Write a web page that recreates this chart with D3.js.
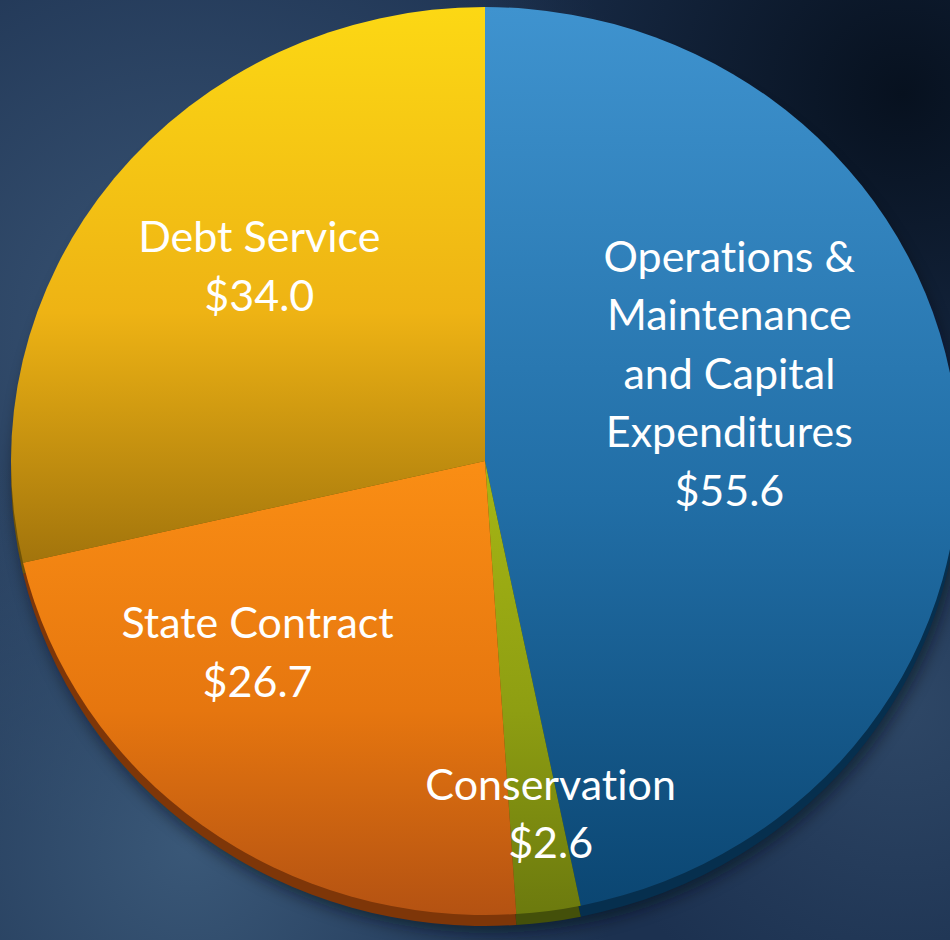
<!DOCTYPE html>
<html>
<head>
<meta charset="utf-8">
<script src="https://cdn.jsdelivr.net/npm/d3@7"></script>
<style>
  html, body { margin: 0; padding: 0; background: #1d3452; }
  #canvas { width: 950px; height: 940px; }
  text { font-variant-ligatures: none; font-feature-settings: "liga" 0; }
</style>
</head>
<body>
<div id="canvas" class="canvas"></div>
<script>
// data (millions of dollars)
var categories = ['Operations & Maintenance and Capital Expenditures', 'Conservation', 'State Contract', 'Debt Service'];
var values = [55.6, 2.6, 26.7, 34.0];
var labelLines = [
  ['Operations &', 'Maintenance', 'and Capital', 'Expenditures', '$55.6'],
  ['Conservation', '$2.6'],
  ['State Contract', '$26.7'],
  ['Debt Service', '$34.0']
];

var w = 950, h = 940;
var cx = 485, cy = 461, rx = 474, ry = 454;

// top colour, middle colour, bottom colour, side (rim) colour for each slice
var colors = [
  ['#3f93cf', '#216ea6', '#0b4672', '#062f4e'],
  ['#a6b614', '#8e9e12', '#6c7a0e', '#44500a'],
  ['#fa8e14', '#e6760f', '#b45212', '#7e3608'],
  ['#fcd814', '#eeb314', '#a2740c', '#6e5208']
];
// label placement: radius factor and angle nudge (degrees)
var labelPlace = [[0.54, -11.5], [0.82, -2], [0.66, 10], [0.62, 1.3]];

var svg = d3.select('#canvas').append('svg')
  .attr('width', w)
  .attr('height', h);

var defs = svg.append('defs');

// background
var bg1 = defs.append('radialGradient').attr('id', 'bgLight')
  .attr('cx', 0.2).attr('cy', 0.35).attr('r', 0.55);
bg1.append('stop').attr('offset', 0).attr('stop-color', '#3a5575');
bg1.append('stop').attr('offset', 1).attr('stop-color', '#3a5575').attr('stop-opacity', 0);

var bg2 = defs.append('radialGradient').attr('id', 'bgDark')
  .attr('cx', 0.95).attr('cy', 0.1).attr('r', 0.5);
bg2.append('stop').attr('offset', 0).attr('stop-color', '#07111f');
bg2.append('stop').attr('offset', 1).attr('stop-color', '#07111f').attr('stop-opacity', 0);

var bg3 = defs.append('radialGradient').attr('id', 'bgLow')
  .attr('cx', 0.2).attr('cy', 0.9).attr('r', 0.45);
bg3.append('stop').attr('offset', 0).attr('stop-color', '#3a5878');
bg3.append('stop').attr('offset', 1).attr('stop-color', '#3a5878').attr('stop-opacity', 0);

var bg4 = defs.append('radialGradient').attr('id', 'bgRight')
  .attr('cx', 0.95).attr('cy', 0.75).attr('r', 0.35);
bg4.append('stop').attr('offset', 0).attr('stop-color', '#2e4766');
bg4.append('stop').attr('offset', 1).attr('stop-color', '#2e4766').attr('stop-opacity', 0);

svg.append('rect').attr('width', w).attr('height', h).attr('fill', '#1c3150');
svg.append('rect').attr('width', w).attr('height', h).attr('fill', 'url(#bgLight)');
svg.append('rect').attr('width', w).attr('height', h).attr('fill', 'url(#bgLow)');
svg.append('rect').attr('width', w).attr('height', h).attr('fill', 'url(#bgRight)');
svg.append('rect').attr('width', w).attr('height', h).attr('fill', 'url(#bgDark)');

// slice gradients
colors.forEach(function(c, i) {
  var g = defs.append('linearGradient').attr('id', 'slice' + i)
    .attr('x1', 0).attr('y1', 0).attr('x2', 0).attr('y2', 1);
  g.append('stop').attr('offset', 0).attr('stop-color', c[0]);
  g.append('stop').attr('offset', 0.55).attr('stop-color', c[1]);
  g.append('stop').attr('offset', 1).attr('stop-color', c[2]);
});

defs.append('filter').attr('id', 'shadow')
  .attr('x', -0.1).attr('y', -0.1).attr('width', 1.2).attr('height', 1.2)
  .append('feGaussianBlur').attr('stdDeviation', 8);

var pie = d3.pie().sort(null).value(function(d) { return d; });
var arcs = pie(values);
var arc = d3.arc().innerRadius(0).outerRadius(rx);

// shadow under the pie
svg.append('ellipse')
  .attr('cx', cx + 4).attr('cy', cy + 18)
  .attr('rx', rx).attr('ry', ry)
  .attr('fill', '#050c18')
  .attr('opacity', 0.55)
  .attr('filter', 'url(#shadow)');

// side of the pie (3D rim)
svg.append('g')
  .attr('transform', 'translate(' + cx + ',' + (cy + 11) + ') scale(1,' + (ry / rx) + ')')
  .selectAll('path').data(arcs).enter()
  .append('path')
  .attr('d', arc)
  .attr('fill', function(d, i) { return colors[i][3]; });

// top face
svg.append('g')
  .attr('transform', 'translate(' + cx + ',' + cy + ') scale(1,' + (ry / rx) + ')')
  .selectAll('path').data(arcs).enter()
  .append('path')
  .attr('d', arc)
  .attr('fill', function(d, i) { return 'url(#slice' + i + ')'; });

// labels
var fs = 43, lh = 58.5;
var labels = svg.append('g')
  .selectAll('text').data(arcs).enter()
  .append('text')
  .attr('text-anchor', 'middle')
  .attr('fill', '#ffffff')
  .style('font-family', 'Lato, "Open Sans", sans-serif')
  .style('font-size', fs + 'px')
  .attr('transform', function(d, i) {
    var p = labelPlace[i];
    var a = (d.startAngle + d.endAngle) / 2 + p[1] * Math.PI / 180;
    var r = rx * p[0];
    var x = cx + Math.sin(a) * r;
    var y = cy - Math.cos(a) * r * ry / rx;
    return 'translate(' + x + ',' + y + ')';
  });

labels.each(function(d, i) {
  var lines = labelLines[i];
  var t = d3.select(this);
  lines.forEach(function(s, j) {
    t.append('tspan')
      .attr('x', 0)
      .attr('y', (j - (lines.length - 1) / 2) * lh + 1)
      .text(s);
  });
});
</script>
</body>
</html>
